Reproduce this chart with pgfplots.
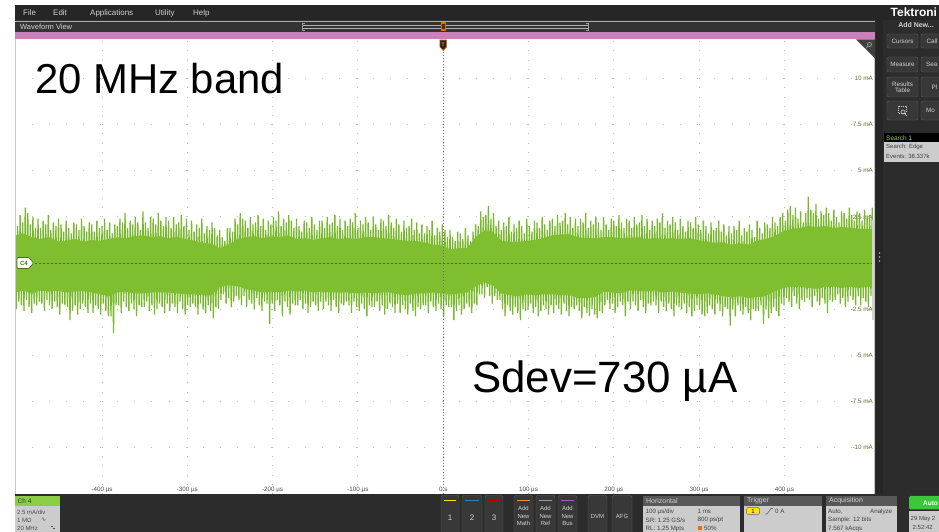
\documentclass[border=0pt]{standalone}
\usepackage{pgfplots}
\pgfplotsset{compat=1.18}
\usepackage{fontspec}
\setmainfont{Liberation Sans}
\newfontfamily\symfont{DejaVu Sans}
\newcommand\fs[1]{\fontsize{#1}{#1}\selectfont}

\definecolor{menubg}{RGB}{38,38,38}
\definecolor{viewbar}{RGB}{52,52,52}
\definecolor{pinkbar}{RGB}{204,128,186}
\definecolor{panelbg}{RGB}{44,44,44}
\definecolor{btnbg}{RGB}{56,56,56}
\definecolor{btnline}{RGB}{95,95,95}
\definecolor{wave}{RGB}{120,184,44}
\definecolor{wavecore}{RGB}{126,190,47}
\definecolor{zeroline}{RGB}{70,110,35}
\definecolor{chlabel}{RGB}{95,112,48}
\definecolor{boxgray}{RGB}{204,204,204}
\definecolor{boxhead}{RGB}{88,88,88}
\definecolor{chgreen}{RGB}{140,205,70}
\definecolor{autogreen}{RGB}{58,200,58}
\definecolor{menutext}{RGB}{210,210,210}
\definecolor{gridgray}{RGB}{190,190,190}
\definecolor{mathorange}{RGB}{230,150,50}
\definecolor{buspurple}{RGB}{160,90,200}

% a dark UI button with centred caption
\newcommand\btn[5]{%
  \draw[btnline, fill=btnbg, rounded corners=2bp] (#1,#2) rectangle (#3,#4);
  \node[text=menutext, font=\fs{6.3}, align=center, inner sep=0pt] at ({(#1+#3)/2},{(#2+#4)/2}) {#5};}

\begin{document}
\begin{tikzpicture}[x=1bp,y=1bp]
\useasboundingbox (0,0) rectangle (939,532);
\clip (0,0) rectangle (939,532);
\fill[white] (0,0) rectangle (939,532);

\begin{axis}[
  at={(15bp,38bp)}, anchor=south west, scale only axis,
  width=861bp, height=455bp,
  xmin=-502, xmax=507.4, ymin=-12.53, ymax=12.15,
  axis line style={draw=none},
  major tick length=0pt,
  xtick={-400,-300,-200,-100,0,100,200,300,400},
  xticklabels={-400 µs,-300 µs,-200 µs,-100 µs,0 s,100 µs,200 µs,300 µs,400 µs},
  ytick={-10,-7.5,-5,-2.5,0,2.5,5,7.5,10},
  yticklabels={-10 mA,-7.5 mA,-5 mA,-2.5 mA,0 A,2.5 mA,5 mA,7.5 mA,10 mA},
  xticklabel style={anchor=base, yshift=2.5bp, inner sep=0pt, font=\fs{6.3}, text=black!70},
  yticklabel pos=right,
  yticklabel style={anchor=east, xshift=-3bp, inner sep=0pt, font=\fs{6.3}, text=chlabel},
  xmajorgrids, ymajorgrids,
  x grid style={draw=gridgray, line width=1bp, dash pattern=on 1bp off 8.22bp},
  y grid style={draw=gridgray, line width=1bp, dash pattern=on 1bp off 16.06bp},
]
% channel 4 current, min/max per display column, 1.5 us apart
\addplot[draw=wave, line width=1.25bp, line join=bevel] table[header=false, row sep=\\, x expr={\coordindex*1.5-502}, y index=0] {
2.4\\-2.5\\2.0\\-2.1\\2.6\\-2.3\\2.2\\-2.6\\3.0\\-2.0\\2.7\\-2.4\\2.1\\-2.7\\2.5\\-2.2\\1.9\\-2.3\\2.4\\-2.1\\
1.9\\-2.2\\2.3\\-2.6\\2.1\\-2.0\\2.6\\-2.3\\1.8\\-2.5\\2.2\\-2.1\\2.0\\-2.4\\2.4\\-2.8\\2.1\\-2.2\\1.7\\-2.3\\
2.3\\-2.4\\1.9\\-3.1\\1.6\\-2.6\\2.2\\-2.3\\2.1\\-2.8\\1.8\\-2.5\\2.4\\-2.2\\2.0\\-2.4\\1.7\\-2.7\\2.2\\-2.2\\
2.1\\-2.7\\1.7\\-2.3\\2.3\\-2.5\\1.9\\-2.8\\2.0\\-2.2\\2.4\\-2.6\\1.8\\-2.9\\2.2\\-2.9\\1.6\\-3.8\\2.1\\-2.3\\
2.0\\-2.3\\2.4\\-2.7\\2.2\\-2.1\\2.7\\-2.4\\1.9\\-2.6\\2.3\\-2.2\\2.1\\-2.5\\2.5\\-2.9\\2.2\\-2.3\\1.8\\-2.4\\
2.8\\-2.4\\2.2\\-2.1\\1.9\\-2.6\\2.5\\-2.3\\2.4\\-2.8\\2.1\\-2.5\\2.7\\-2.2\\2.3\\-2.4\\2.0\\-2.7\\2.5\\-2.2\\
2.3\\-2.6\\1.9\\-2.2\\2.5\\-2.4\\2.1\\-2.7\\2.2\\-2.1\\2.6\\-2.5\\2.0\\-2.8\\2.4\\-2.3\\1.8\\-2.4\\2.3\\-2.2\\
1.7\\-2.4\\2.1\\-2.8\\1.9\\-2.2\\2.4\\-2.5\\1.6\\-2.7\\2.0\\-2.3\\1.8\\-2.6\\2.2\\-3.0\\1.9\\-2.4\\1.5\\-2.5\\
1.8\\-2.0\\1.4\\-1.7\\1.2\\-2.2\\1.9\\-1.9\\1.9\\-2.4\\1.7\\-2.1\\2.4\\-1.8\\2.1\\-2.0\\2.7\\-2.3\\2.4\\-1.8\\
2.3\\-2.4\\1.9\\-2.0\\2.5\\-2.2\\2.1\\-2.5\\2.2\\-1.9\\2.6\\-2.3\\2.0\\-2.6\\2.4\\-2.1\\1.8\\-2.2\\2.3\\-3.3\\
2.1\\-2.2\\2.5\\-2.6\\2.3\\-2.0\\2.8\\-2.3\\2.0\\-2.9\\2.4\\-2.1\\2.2\\-2.4\\2.6\\-2.8\\2.3\\-2.2\\1.9\\-2.3\\
2.4\\-2.3\\2.0\\-2.0\\1.7\\-2.5\\2.3\\-2.2\\2.2\\-2.7\\1.9\\-2.4\\2.5\\-2.1\\2.1\\-2.3\\1.8\\-2.6\\2.3\\-2.1\\
2.3\\-2.5\\1.9\\-2.1\\2.5\\-2.3\\2.1\\-2.6\\2.2\\-2.0\\2.6\\-2.4\\2.0\\-2.7\\2.4\\-2.2\\1.8\\-2.3\\2.3\\-2.1\\
2.0\\-2.3\\2.4\\-2.7\\2.2\\-2.1\\2.7\\-2.4\\1.9\\-2.6\\2.3\\-2.2\\2.1\\-2.5\\2.5\\-2.9\\2.2\\-2.3\\1.8\\-2.4\\
2.5\\-2.4\\2.1\\-2.1\\1.8\\-2.6\\2.4\\-2.3\\2.3\\-2.8\\2.0\\-2.5\\2.6\\-2.2\\2.2\\-2.4\\1.9\\-2.7\\2.4\\-2.2\\
2.1\\-2.7\\1.7\\-2.3\\2.3\\-2.5\\1.9\\-2.8\\2.0\\-2.2\\2.4\\-2.6\\1.8\\-2.9\\2.2\\-2.4\\1.6\\-2.5\\2.1\\-2.3\\
1.6\\-2.3\\2.0\\-2.7\\1.8\\-2.1\\2.3\\-2.4\\1.5\\-2.6\\1.9\\-2.2\\1.7\\-2.5\\2.1\\-2.9\\1.8\\-2.3\\1.4\\-2.4\\
1.8\\-2.4\\1.4\\-3.1\\1.2\\-2.6\\1.7\\-2.3\\1.6\\-2.8\\1.3\\-2.5\\1.9\\-2.2\\1.5\\-2.4\\1.2\\-2.7\\1.7\\-2.2\\
2.1\\-2.3\\2.0\\-1.7\\2.8\\-1.7\\2.5\\-1.9\\2.6\\-1.3\\3.1\\-1.8\\2.4\\-2.2\\2.7\\-1.8\\2.0\\-2.0\\2.3\\-2.0\\
1.8\\-2.5\\2.2\\-2.9\\2.0\\-2.3\\2.5\\-2.6\\1.7\\-2.8\\2.1\\-2.4\\1.9\\-2.7\\2.3\\-3.1\\2.0\\-2.5\\1.6\\-2.6\\
2.4\\-2.5\\2.0\\-2.2\\1.7\\-2.7\\2.3\\-2.4\\2.2\\-2.9\\1.9\\-2.6\\2.5\\-2.3\\2.1\\-2.5\\1.8\\-2.8\\2.3\\-2.3\\
2.4\\-2.7\\2.0\\-2.3\\2.6\\-2.5\\2.2\\-2.8\\2.3\\-2.2\\2.7\\-2.6\\2.1\\-2.9\\2.5\\-2.4\\1.9\\-2.5\\2.4\\-2.3\\
2.0\\-2.6\\2.4\\-3.0\\2.2\\-2.4\\2.7\\-2.7\\1.9\\-2.9\\2.3\\-2.5\\2.1\\-2.8\\2.5\\-3.0\\2.2\\-2.6\\1.8\\-2.7\\
2.5\\-2.3\\2.1\\-2.0\\1.8\\-2.5\\2.4\\-2.2\\2.3\\-2.7\\2.0\\-2.4\\2.6\\-2.1\\2.2\\-2.3\\1.9\\-2.9\\2.4\\-2.1\\
2.3\\-2.5\\1.9\\-2.1\\2.5\\-2.3\\2.1\\-2.6\\2.2\\-2.0\\2.6\\-2.4\\2.0\\-2.7\\2.4\\-2.2\\1.8\\-2.3\\2.3\\-2.1\\
2.0\\-2.3\\2.4\\-2.7\\2.2\\-2.1\\2.7\\-2.4\\1.9\\-2.6\\2.3\\-2.2\\2.1\\-2.5\\2.5\\-2.9\\2.2\\-2.3\\1.8\\-2.4\\
2.4\\-2.5\\2.0\\-2.2\\1.7\\-2.7\\2.3\\-2.4\\2.2\\-2.9\\1.9\\-2.6\\2.5\\-2.3\\2.1\\-2.5\\1.8\\-2.8\\2.3\\-2.9\\
2.0\\-2.7\\1.6\\-2.3\\2.2\\-2.5\\1.8\\-2.8\\1.9\\-2.2\\2.3\\-2.6\\1.7\\-2.9\\2.1\\-2.4\\1.5\\-2.5\\2.0\\-3.4\\
1.6\\-2.5\\2.0\\-2.9\\1.8\\-2.3\\2.3\\-2.6\\1.5\\-2.8\\1.9\\-2.4\\1.7\\-2.7\\2.1\\-3.1\\1.8\\-2.5\\1.4\\-2.6\\
2.3\\-2.6\\1.9\\-2.3\\1.6\\-3.3\\2.2\\-2.5\\2.1\\-3.0\\1.9\\-2.7\\2.5\\-2.4\\2.2\\-2.6\\2.0\\-2.9\\2.5\\-2.2\\
2.7\\-2.3\\2.3\\-1.9\\2.9\\-2.1\\3.1\\-2.4\\2.6\\-1.8\\3.0\\-2.2\\2.4\\-2.5\\2.8\\-2.0\\2.2\\-2.1\\2.7\\-1.9\\
3.6\\-2.0\\2.9\\-2.4\\2.7\\-1.8\\3.2\\-2.1\\2.4\\-2.3\\2.8\\-1.9\\2.6\\-2.2\\3.0\\-2.7\\2.7\\-2.0\\2.3\\-2.1\\
2.9\\-2.0\\2.5\\-1.7\\2.2\\-2.2\\2.8\\-1.9\\2.7\\-2.4\\2.4\\-2.1\\3.0\\-1.8\\2.6\\-2.0\\2.3\\-2.3\\2.8\\-1.8\\
2.7\\-2.3\\2.3\\-1.9\\2.9\\-2.1\\2.5\\-2.4\\2.6\\-1.8\\3.0\\-2.2\\2.4\\-2.5\\2.8\\-2.0\\2.2\\-2.1\\2.7\\-1.9\\
};
% dense middle of the trace: upper and lower edge, 10 us apart, each filled to 0 A
\addplot[fill=wavecore, draw=none] table[header=false, row sep=\\, x expr={\coordindex*10-502}, y index=0] {
1.5\\1.6\\1.4\\1.3\\1.4\\1.2\\1.2\\1.3\\1.15\\1.25\\1.2\\1.3\\1.4\\1.35\\1.45\\1.5\\1.4\\1.45\\
1.35\\1.4\\1.3\\1.2\\1.1\\1.05\\0.8\\1.0\\1.25\\1.4\\1.45\\1.35\\1.45\\1.4\\1.5\\1.3\\1.35\\1.25\\
1.35\\1.4\\1.3\\1.35\\1.3\\1.4\\1.4\\1.35\\1.3\\1.25\\1.2\\1.2\\1.1\\1.0\\0.95\\0.75\\0.8\\0.8\\
1.4\\1.75\\1.7\\1.2\\1.15\\1.15\\1.2\\1.25\\1.35\\1.5\\1.55\\1.55\\1.4\\1.35\\1.35\\1.4\\1.4\\1.35\\
1.35\\1.4\\1.3\\1.35\\1.3\\1.35\\1.3\\1.35\\1.25\\1.15\\1.1\\1.1\\1.0\\1.05\\1.0\\1.2\\1.3\\1.45\\
1.7\\1.85\\1.9\\2.0\\1.95\\2.0\\1.9\\1.95\\1.9\\1.85\\1.85\\1.8\\
} \closedcycle;
\addplot[fill=wavecore, draw=none] table[header=false, row sep=\\, x expr={\coordindex*10-502}, y index=0] {
-1.6\\-1.5\\-1.65\\-1.5\\-1.55\\-1.5\\-1.6\\-1.55\\-1.5\\-1.6\\-1.7\\-1.8\\-1.6\\-1.55\\-1.65\\-1.65\\-1.6\\-1.6\\
-1.6\\-1.65\\-1.7\\-1.7\\-1.75\\-1.75\\-1.3\\-1.2\\-1.25\\-1.4\\-1.5\\-1.6\\-1.55\\-1.6\\-1.5\\-1.55\\-1.5\\-1.6\\
-1.55\\-1.6\\-1.6\\-1.6\\-1.65\\-1.6\\-1.65\\-1.6\\-1.6\\-1.7\\-1.75\\-1.65\\-1.65\\-1.6\\-1.65\\-1.7\\-1.65\\-1.6\\
-1.25\\-1.05\\-1.2\\-1.65\\-1.75\\-1.8\\-1.7\\-1.75\\-1.7\\-1.7\\-1.75\\-1.75\\-1.9\\-1.9\\-1.85\\-1.55\\-1.6\\-1.65\\
-1.5\\-1.5\\-1.55\\-1.5\\-1.6\\-1.55\\-1.6\\-1.65\\-1.7\\-1.65\\-1.7\\-1.8\\-1.85\\-1.8\\-1.9\\-1.85\\-1.8\\-1.55\\
-1.35\\-1.3\\-1.3\\-1.35\\-1.4\\-1.3\\-1.3\\-1.35\\-1.3\\-1.35\\-1.3\\-1.35\\
} \closedcycle;
% channel offset line and trigger time reference
\draw[zeroline, line width=0.7bp, dash pattern=on 2bp off 2bp] (axis cs:-479,0) -- (axis cs:503,0);
\draw[black!55, line width=0.8bp, dash pattern=on 1bp off 2bp] (axis cs:0,-12.53) -- (axis cs:0,12.15);
\end{axis}

% instrument frame, drawn in screen pixel coordinates (origin top left)
\begin{scope}[shift={(0,532)}, yscale=-1]
  % plot borders
  \draw[gray!45, line width=0.6bp] (15.3,39) -- (15.3,494);
  \draw[gray!45, line width=0.6bp] (874.7,39) -- (874.7,494);
  \fill[gray!35] (871.5,220) rectangle (873.5,320);

  % channel marker
  \draw[zeroline, fill=white, line width=0.7bp, rounded corners=1bp]
    (17,257.5) -- (29,257.5) -- (33.5,263) -- (29,268.5) -- (17,268.5) -- cycle;
  \node[text=zeroline, font=\bfseries\fs{6}, inner sep=0pt] at (24,263) {C4};

  % annotations
  \node[anchor=base west, inner sep=0pt, font=\fs{42}] at (35,94) {20 MHz band};
  \node[anchor=base west, inner sep=0pt, font=\fs{44}] at (472,393) {Sdev=730 µA};

  % menu bar
  \fill[menubg] (15,5) rectangle (939,20.5);
  \foreach \x/\lbl in {23/File,53/Edit,90/Applications,155/Utility,193/Help}
    \node[anchor=west, inner sep=0pt, text=menutext, font=\fs{8}] at (\x,13) {\lbl};

  % waveform view title bar
  \fill[viewbar] (15,20.5) rectangle (875,32);
  \draw[gray!65, line width=0.8bp] (15,21) -- (875,21);
  \node[anchor=west, inner sep=0pt, text=menutext, font=\fs{7.5}] at (20,27) {Waveform View};
  \draw[gray!60, line width=0.6bp] (302,25.3) -- (588,25.3) (302,28.4) -- (588,28.4);
  \draw[gray!75, line width=0.6bp] (304.5,23) -- (302,23) -- (302,30.8) -- (304.5,30.8);
  \draw[gray!75, line width=0.6bp] (585.5,23) -- (588,23) -- (588,30.8) -- (585.5,30.8);
  \fill[orange!85!black] (440.5,22) rectangle (445.5,31);
  \fill[black!80] (441.5,24) rectangle (444.5,29);

  % record strip
  \fill[pinkbar] (15,32) rectangle (875,39.5);

  % trigger position marker
  \draw[orange!90!black, fill=black!85, line width=0.6bp]
    (439.8,40) -- (446.6,40) -- (446.6,47) -- (443.2,50.5) -- (439.8,47) -- cycle;
  \node[text=orange, font=\bfseries\fs{5}, inner sep=0pt] at (443.2,44.5) {T};

  % zoom corner
  \fill[black!75] (856,39.5) -- (875,39.5) -- (875,58.5) -- cycle;
  \draw[gray!70, line width=0.7bp] (869.5,44.5) circle (2bp) (868,46) -- (865.5,48.5);

  % right panel
  \fill[panelbg] (875,20.5) rectangle (939,494);
  \fill[black!85] (876,20.5) rectangle (883,494);
  \foreach \yy in {253,257,261} \fill[gray!60] (879.5,\yy) circle (0.8bp);
  \node[anchor=west, inner sep=0pt, text=white, font=\bfseries\fs{12}] at (890.5,12.5) {Tektroni};
  \node[inner sep=0pt, text=menutext, font=\bfseries\fs{7}] at (916,25.5) {Add New...};
  \btn{887}{34}{918}{48}{Cursors}
  \btn{887}{57}{918}{72}{Measure}
  \btn{887}{77}{918}{97}{Results\\Table}
  \btn{887}{101}{918}{120}{}
  \draw[menutext, line width=0.5bp, dash pattern=on 1bp off 1bp] (898,106) rectangle (906,113);
  \draw[menutext, line width=0.6bp] (903,112) circle (2bp) (904.5,113.5) -- (907,116);
  \foreach \ya/\yb in {34/48, 57/72, 77/97, 101/120}
    \draw[btnline, fill=btnbg, rounded corners=2bp] (921,\ya) rectangle (950,\yb);
  \node[anchor=west, inner sep=0pt, text=menutext, font=\fs{6.3}] at (926.5,41) {Call};
  \node[anchor=west, inner sep=0pt, text=menutext, font=\fs{6.3}] at (926,64.5) {Sea};
  \node[anchor=west, inner sep=0pt, text=menutext, font=\fs{6.3}] at (931.5,87) {Pl};
  \node[anchor=west, inner sep=0pt, text=menutext, font=\fs{6.3}] at (926,110.5) {Mo};
  \fill[black] (884,133) rectangle (945,142);
  \node[anchor=west, inner sep=0pt, text=chgreen, font=\fs{6.5}] at (886,137.8) {Search 1};
  \fill[boxgray] (884,142) rectangle (945,162);
  \node[anchor=west, inner sep=0pt, text=black!75, font=\fs{6}] at (886,147) {Search: Edge};
  \node[anchor=west, inner sep=0pt, text=black!75, font=\fs{6}] at (886,156) {Events: 38.337k};

  % status bar
  \fill[panelbg] (15,494) rectangle (939,532);
  \fill[chgreen] (15,496) rectangle (60,506);
  \node[anchor=west, inner sep=0pt, text=black!80, font=\fs{6.5}] at (17.5,501.2) {Ch 4};
  \fill[boxgray] (15,506) rectangle (60,532);
  \node[anchor=west, inner sep=0pt, text=black!70, font=\fs{6}] at (17,512) {2.5 mA/div};
  \node[anchor=west, inner sep=0pt, text=black!70, font=\fs{6}] at (17,520) {1 MΩ};
  \node[anchor=west, inner sep=0pt, text=black!70, font=\symfont\fs{6}] at (41,519.5) {∿};
  \node[anchor=west, inner sep=0pt, text=black!70, font=\fs{6}] at (17,528) {20 MHz};
  \draw[black!70, line width=0.8bp] (50.5,526) -- (52.5,526) (53,528) -- (55,528);

  % channel / math / ref / bus buttons
  \foreach \xa/\xb/\c/\n in {441/459/yellow!85!orange/1, 462/482/cyan!70!blue/2, 485/503/red!70!black/3} {
    \draw[btnline, fill=btnbg, rounded corners=2bp] (\xa,495.5) rectangle (\xb,536);
    \draw[\c, line width=1.2bp] (\xa+3,500.5) -- (\xb-3,500.5);
    \node[text=menutext, font=\fs{8}, inner sep=0pt] at ({(\xa+\xb)/2},517.5) {\n};
  }
  \foreach \xa/\xb/\c/\n in {514/533/mathorange/Math, 536/555/gray!80/Ref, 558/577/buspurple/Bus} {
    \draw[btnline, fill=btnbg, rounded corners=2bp] (\xa,495.5) rectangle (\xb,536);
    \draw[\c, line width=1.2bp] (\xa+3,500.5) -- (\xb-3,500.5);
    \node[text=menutext, font=\fs{6}, align=center, inner sep=0pt] at ({(\xa+\xb)/2},516) {Add\\[1.3bp]New\\[1.3bp]\n};
  }
  \foreach \xa/\xb/\n in {588/607/DVM, 612/632/AFG} {
    \draw[btnline, fill=btnbg, rounded corners=2bp] (\xa,495.5) rectangle (\xb,536);
    \node[text=menutext, font=\fs{6}, inner sep=0pt] at ({(\xa+\xb)/2},516) {\n};
  }

  % horizontal settings
  \fill[boxhead] (643,496) rectangle (740,506);
  \node[anchor=west, inner sep=0pt, text=menutext, font=\fs{7}] at (646,501.2) {Horizontal};
  \fill[boxgray] (643,506) rectangle (740,534);
  \node[anchor=west, inner sep=0pt, text=black!75, font=\fs{6.2}] at (645.5,511.5) {100 µs/div};
  \node[anchor=west, inner sep=0pt, text=black!75, font=\fs{6.2}] at (697.5,511.5) {1 ms};
  \node[anchor=west, inner sep=0pt, text=black!75, font=\fs{6.2}] at (645.5,520) {SR: 1.25 GS/s};
  \node[anchor=west, inner sep=0pt, text=black!75, font=\fs{6.2}] at (697.5,520) {800 ps/pt};
  \node[anchor=west, inner sep=0pt, text=black!75, font=\fs{6.2}] at (645.5,528.5) {RL: 1.25 Mpts};
  \fill[orange!90!black] (698,526.5) rectangle (702,530.5);
  \node[anchor=west, inner sep=0pt, text=black!75, font=\fs{6.2}] at (704,528.5) {50\%};

  % trigger settings
  \fill[boxhead] (744,496) rectangle (822,506);
  \node[anchor=west, inner sep=0pt, text=menutext, font=\fs{7}] at (747,501.2) {Trigger};
  \fill[boxgray] (744,506) rectangle (822,534);
  \draw[black!60, fill=yellow!90!orange, rounded corners=2bp, line width=0.5bp] (746.5,507.5) rectangle (759.5,514.5);
  \node[text=black, font=\fs{6}, inner sep=0pt] at (753,511) {1};
  \draw[black!60, line width=0.6bp] (765,514) -- (767,514) -- (771,508.5) -- (773,508.5);
  \node[anchor=west, inner sep=0pt, text=black!75, font=\fs{6.2}] at (775,511.5) {0 A};

  % acquisition settings
  \fill[boxhead] (826,496) rectangle (897,506);
  \node[anchor=west, inner sep=0pt, text=menutext, font=\fs{7}] at (829,501.2) {Acquisition};
  \fill[boxgray] (826,506) rectangle (897,534);
  \node[anchor=west, inner sep=0pt, text=black!75, font=\fs{6.2}] at (828,511.5) {Auto,};
  \node[anchor=west, inner sep=0pt, text=black!75, font=\fs{6.2}] at (870,511.5) {Analyze};
  \node[anchor=west, inner sep=0pt, text=black!75, font=\fs{6.2}] at (828,520) {Sample: 12 bits};
  \node[anchor=west, inner sep=0pt, text=black!75, font=\fs{6.2}] at (828,528.5) {7.567 kAcqs};

  % run control and clock
  \fill[autogreen, rounded corners=2bp] (909,496) rectangle (950,509.5);
  \node[anchor=west, inner sep=0pt, text=white, font=\bfseries\fs{6.5}] at (923,503) {Auto};
  \fill[boxgray] (909,511.5) rectangle (950,534);
  \node[anchor=west, inner sep=0pt, text=black!75, font=\fs{6}] at (910.5,519) {29 May 2};
  \node[anchor=west, inner sep=0pt, text=black!75, font=\fs{6}] at (912.5,527) {2:52:42};
\end{scope}
\end{tikzpicture}
\end{document}
